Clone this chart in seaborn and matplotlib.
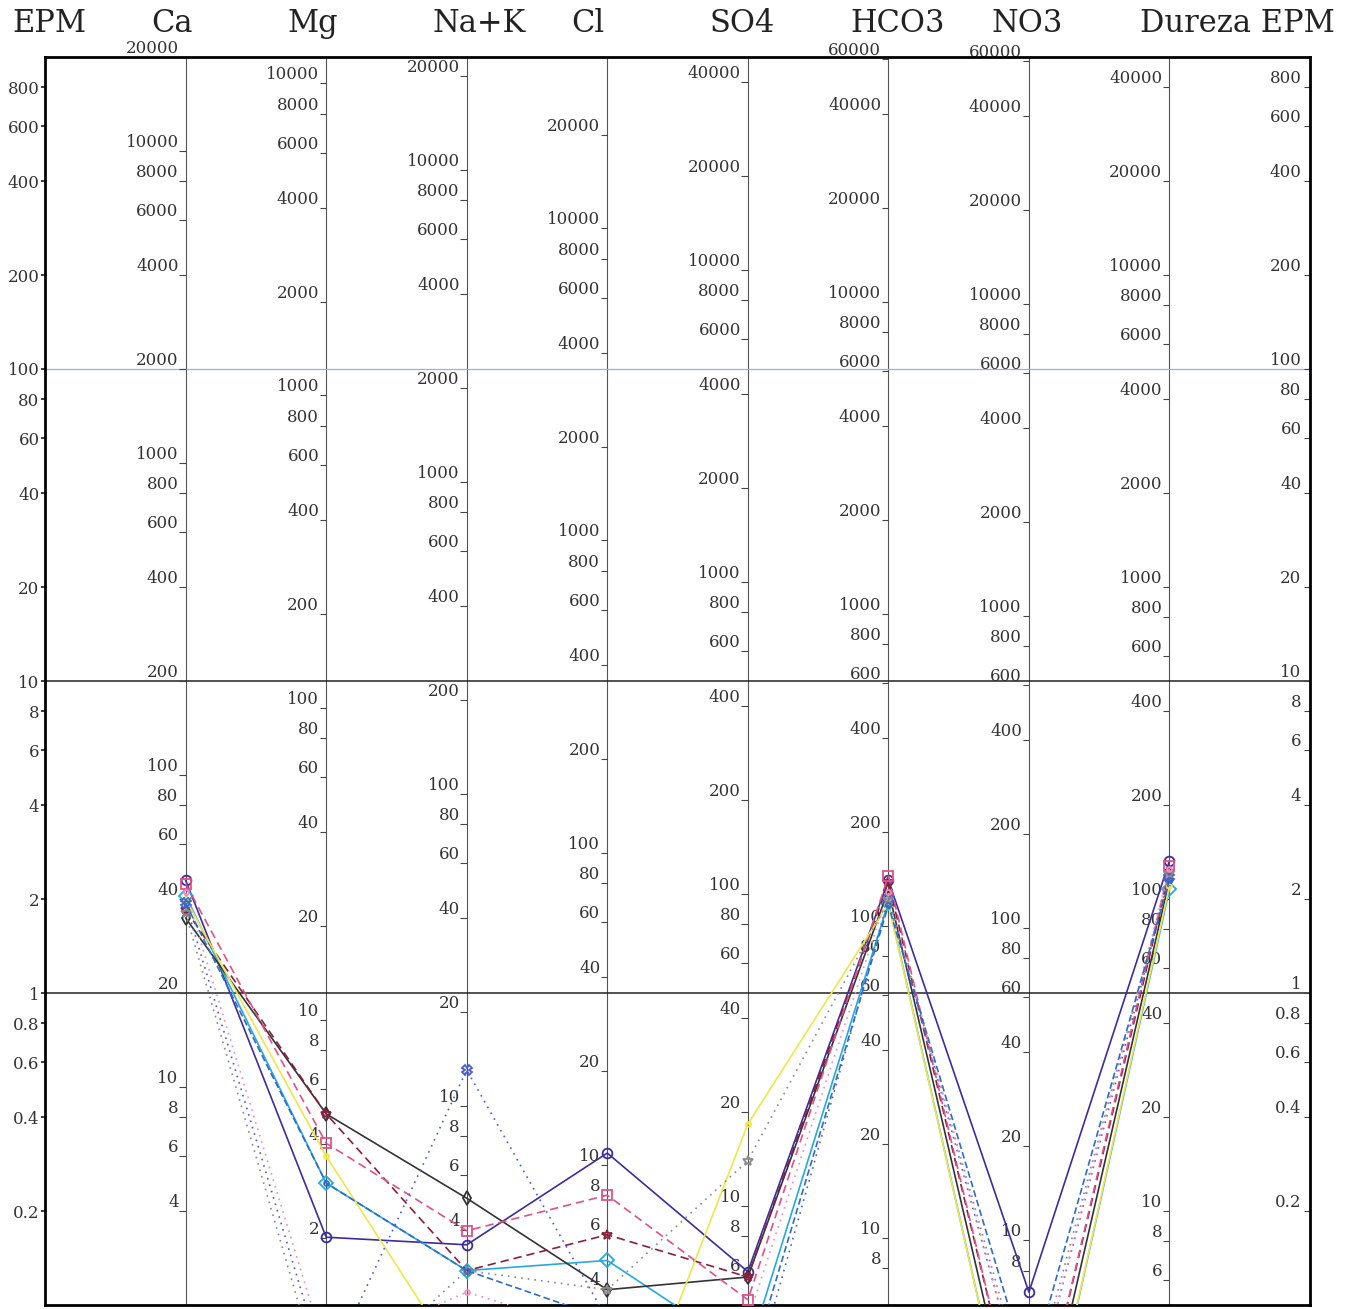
import numpy as np
import pandas as pd
import matplotlib
matplotlib.use("Agg")
import matplotlib.pyplot as plt
import seaborn as sns

# Diagrama de Schoeller: valores en EPM por muestra
columnas = ["Ca", "Mg", "Na+K", "Cl", "SO4", "HCO3", "NO3", "Dureza"]

m1 = [2.30, 0.165, 0.156, 0.307, 0.128, 2.30, 0.110, 2.65]
m2 = [2.05, 0.246, 0.129, 0.139, 0.070, 1.95, 0.020, 2.15]
m3 = [1.74, 0.410, 0.220, 0.112, 0.123, 2.14, 0.025, 2.30]
m4 = [1.85, 0.410, 0.129, 0.168, 0.123, 2.27, 0.030, 2.45]
m5 = [2.24, 0.330, 0.173, 0.225, 0.104, 2.37, 0.030, 2.55]
m6 = [2.00, 0.300, 0.060, 0.026, 0.380, 1.93, 0.020, 2.20]
m7 = [1.94, 0.060, 0.567, 0.090, 0.050, 2.00, 0.045, 2.35]
m8 = [1.80, 0.050, 0.129, 0.112, 0.290, 1.98, 0.050, 2.40]
m9 = [2.10, 0.070, 0.110, 0.080, 0.090, 2.10, 0.045, 2.50]
m10 = [1.94, 0.246, 0.129, 0.090, 0.060, 1.91, 0.060, 2.30]

muestras = ["M1", "M2", "M3", "M4", "M5", "M6", "M7", "M8", "M9", "M10"]
valores = [m1, m2, m3, m4, m5, m6, m7, m8, m9, m10]

colores = ["#3b2d9c", "#25a9e0", "#333333", "#8a1f3d", "#e0508a",
           "#f0e64a", "#4a5fd0", "#8a8a8a", "#f08cc0", "#2d6cc8"]
lineas = ["", "", "", (5, 3), (5, 3), "", (1, 3), (1, 3), (1, 3), (4, 2)]
marcas = ["o", "D", "d", "*", "s", ".", "X", "*", ".", "."]

# escalas en mg/L de cada columna (equivalente en mg por meq)
factores = [20.04, 12.16, 23.0, 35.45, 48.03, 61.02, 62.0, 50.0]
ticks_mg = [
    [20000, 10000, 8000, 6000, 4000, 2000, 1000, 800, 600, 400, 200, 100, 80, 60, 40, 20, 10, 8, 6, 4],
    [10000, 8000, 6000, 4000, 2000, 1000, 800, 600, 400, 200, 100, 80, 60, 40, 20, 10, 8, 6, 4, 2],
    [20000, 10000, 8000, 6000, 4000, 2000, 1000, 800, 600, 400, 200, 100, 80, 60, 40, 20, 10, 8, 6, 4],
    [20000, 10000, 8000, 6000, 4000, 2000, 1000, 800, 600, 400, 200, 100, 80, 60, 40, 20, 10, 8, 6, 4],
    [40000, 20000, 10000, 8000, 6000, 4000, 2000, 1000, 800, 600, 400, 200, 100, 80, 60, 40, 20, 10, 8, 6],
    [60000, 40000, 20000, 10000, 8000, 6000, 4000, 2000, 1000, 800, 600, 400, 200, 100, 80, 60, 40, 20, 10, 8],
    [60000, 40000, 20000, 10000, 8000, 6000, 4000, 2000, 1000, 800, 600, 400, 200, 100, 80, 60, 40, 20, 10, 8],
    [40000, 20000, 10000, 8000, 6000, 4000, 2000, 1000, 800, 600, 400, 200, 100, 80, 60, 40, 20, 10, 8, 6],
]
ticks_epm = [800, 600, 400, 200, 100, 80, 60, 40, 20, 10, 8, 6, 4, 2, 1, 0.8, 0.6, 0.4, 0.2]

titulos = ["EPM", "Ca", "Mg", "Na+K", "Cl", "SO4", "HCO3", "NO3", "Dureza EPM"]
titulos_x = [0.036, 0.126, 0.229, 0.351, 0.430, 0.543, 0.657, 0.752, 0.906]

# tabla larga para seaborn
filas = []
for nombre, vals in zip(muestras, valores):
    for i, v in enumerate(vals):
        filas.append({"muestra": nombre, "pos": i + 1, "epm": v})
df = pd.DataFrame(filas)

sns.set_theme(style="white")
plt.rcParams["font.family"] = ["DejaVu Serif"]

fig = plt.figure(figsize=(13.66, 13.09), dpi=100)
ax = fig.add_axes([0.033, 0.003, 0.926, 0.9535])

sns.lineplot(
    data=df, x="pos", y="epm", hue="muestra", style="muestra",
    palette=dict(zip(muestras, colores)),
    dashes=dict(zip(muestras, lineas)),
    markers=dict(zip(muestras, marcas)),
    estimator=None, sort=False, legend=False, ax=ax,
    lw=1.2, markersize=7, zorder=3,
)
# marcadores huecos con el color de cada serie
for ln in ax.get_lines():
    ln.set_markerfacecolor("none")
    ln.set_markeredgecolor(ln.get_color())
    ln.set_markeredgewidth(1.3)

ax.set_yscale("log")
ax.set_xlim(0, 9)
ax.set_ylim(0.1, 1000)

# lineas de referencia
for c in range(1, 9):
    ax.axvline(c, color="#555555", lw=0.8, zorder=1)
ax.axhline(1, color="#222222", lw=1.1, zorder=1)
ax.axhline(10, color="#222222", lw=1.1, zorder=1)
ax.axhline(100, color="#a4aecb", lw=0.9, zorder=1)

# escalas de cada columna en mg/L
for c, (f, lista) in enumerate(zip(factores, ticks_mg), start=1):
    for t in lista:
        v = t / f
        ax.hlines(v, c - 0.045, c, color="#444444", lw=0.8, zorder=2)
        ax.text(c - 0.05, v, str(t), ha="right", va="bottom", fontsize=12,
                color="#333333", clip_on=False, zorder=2)

# eje EPM derecho (dentro del recuadro)
for t in ticks_epm:
    ax.hlines(t, 9 - 0.045, 9, color="#444444", lw=0.8)
    ax.text(9 - 0.06, t, f"{t:g}", ha="right", va="bottom", fontsize=12,
            color="#333333")

# eje EPM izquierdo
ax.set_yticks(ticks_epm)
ax.set_yticklabels([f"{t:g}" for t in ticks_epm])
ax.yaxis.set_minor_locator(matplotlib.ticker.NullLocator())
ax.tick_params(axis="y", which="major", direction="out", length=3, pad=1,
               labelsize=12, labelcolor="#333333", left=True)
ax.set_xticks([])
ax.set_xlabel("")
ax.set_ylabel("")

for s in ax.spines.values():
    s.set_color("black")
    s.set_linewidth(2)

for txt, x in zip(titulos, titulos_x):
    fig.text(x, 0.982, txt, ha="center", va="center", fontsize=22,
             color="#222222")

fig.savefig("out.png", dpi=100, facecolor="white")
